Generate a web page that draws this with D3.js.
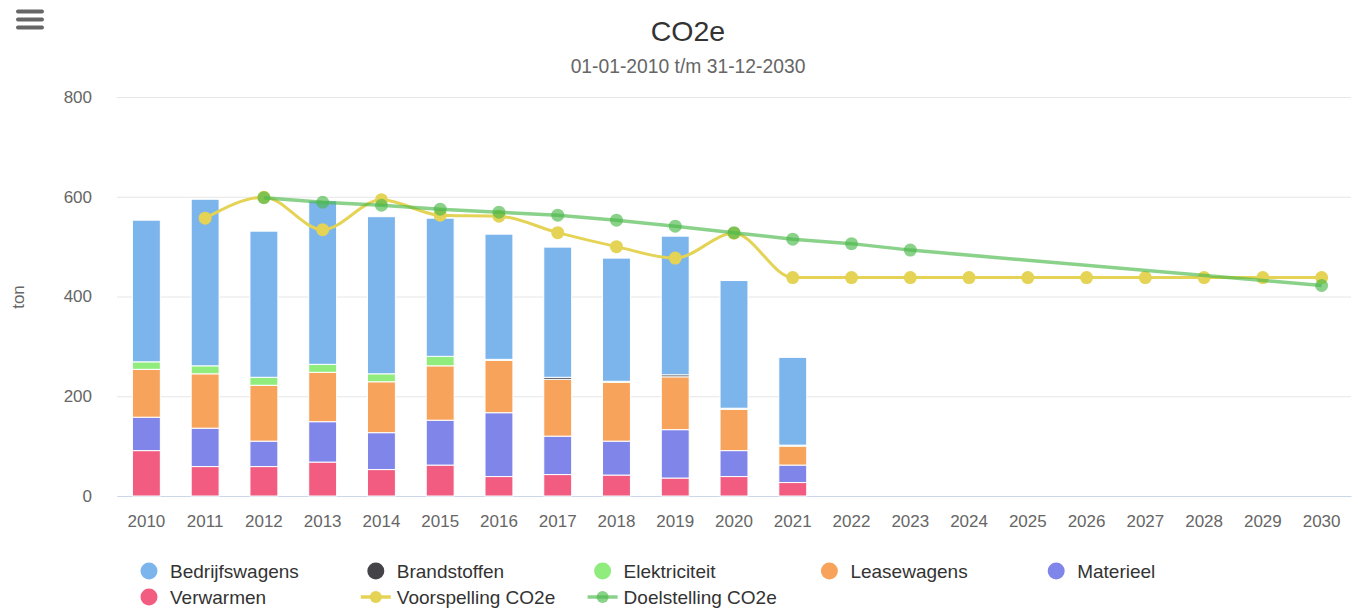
<!DOCTYPE html>
<html>
<head>
<meta charset="utf-8">
<script src="https://cdn.jsdelivr.net/npm/d3@7"></script>
<style>
  body { margin: 0; background: #fff; }
  svg { font-family: "Liberation Sans", Arial, Helvetica, sans-serif; }
  .tick text { fill: #666; font-size: 17px; }
  .grid line { stroke: #e6e6e6; }
  .title { fill: #333; font-size: 28.5px; }
  .subtitle { fill: #666; font-size: 19.3px; }
  .axis-label { fill: #666; font-size: 17px; }
  .legend text { fill: #333; font-size: 19px; }
</style>
</head>
<body>
<svg width="1358" height="612"></svg>
<script>
const width = 1358;
const height = 612;

const margin = { top: 97, right: 7, bottom: 116, left: 117 };

// data
const years = ["2010", "2011", "2012", "2013", "2014", "2015", "2016", "2017", "2018", "2019", "2020",
    "2021", "2022", "2023", "2024", "2025", "2026", "2027", "2028", "2029", "2030"];

const bedrijfswagens = [284, 334, 293, 328, 315, 277, 251, 261, 247, 278, 256, 176];
const brandstoffen   = [0, 0, 0, 0, 0, 0, 0, 4, 0, 4, 0, 0];
const elektriciteit  = [15, 16, 16, 16, 16, 19, 2, 0, 2, 0, 2, 2];
const leasewagens    = [96, 109, 112, 99, 102, 109, 105, 114, 118, 106, 83, 38];
const materieel      = [67, 77, 51, 81, 74, 90, 128, 77, 68, 97, 52, 35];
const verwarmen      = [91, 59, 59, 68, 53, 62, 39, 43, 42, 36, 39, 27];

const voorspelling = [null, 557, 599, 534, 594, 563, 561, 528, 500, 477, 527, 438,
    438, 438, 438, 438, 438, 438, 438, 438, 438];
const doelstelling = [null, null, 598, 589, 583, 575, 569, 563, 553, 541, 528, 515,
    506, 493, null, null, null, null, null, null, 422];

const yTicks = [0, 200, 400, 600, 800];

// stack order: first listed is on top
const barSeries = [
    { name: "Bedrijfswagens", values: bedrijfswagens, color: "#7cb5ec" },
    { name: "Brandstoffen", values: brandstoffen, color: "#434348" },
    { name: "Elektriciteit", values: elektriciteit, color: "#90ed7d" },
    { name: "Leasewagens", values: leasewagens, color: "#f7a35c" },
    { name: "Materieel", values: materieel, color: "#8085e9" },
    { name: "Verwarmen", values: verwarmen, color: "#f15c80" }
];

const svg = d3.select("svg");

// x scale
const xScale = d3.scaleBand()
    .domain(years)
    .range([margin.left, width - margin.right])
    .padding(0);

// y scale
const yScale = d3.scaleLinear()
    .domain([0, 800])
    .range([height - margin.bottom, margin.top]);

// grid lines
svg.append("g")
    .attr("class", "grid")
    .attr("transform", `translate(${margin.left},0)`)
    .call(d3.axisLeft(yScale).tickValues(yTicks).tickSize(-(width - margin.left - margin.right)).tickFormat(""))
    .call(g => g.select(".domain").remove());

// y axis
svg.append("g")
    .attr("transform", `translate(${margin.left - 25},0)`)
    .call(d3.axisLeft(yScale).tickValues(yTicks).tickSize(0).tickPadding(0))
    .call(g => g.select(".domain").remove());

// x axis
svg.append("g")
    .attr("transform", `translate(0, ${height - margin.bottom})`)
    .call(d3.axisBottom(xScale).tickSize(0).tickPadding(19))
    .call(g => g.select(".domain").attr("stroke", "#ccd6eb"));

// stacked bars
const rows = years.slice(0, bedrijfswagens.length).map((yr, i) => {
    const row = { year: yr };
    barSeries.forEach(s => { row[s.name] = s.values[i]; });
    return row;
});

const stack = d3.stack()
    .keys(barSeries.map(s => s.name).reverse());

const layers = stack(rows);
const barWidth = xScale.bandwidth() * 0.475;

layers.forEach(layer => {
    const s = barSeries.find(b => b.name === layer.key);
    svg.append("g")
        .selectAll("rect")
        .data(layer.filter(d => d[1] - d[0] > 0))
        .join("rect")
        .attr("x", d => xScale(d.data.year) + (xScale.bandwidth() - barWidth) / 2)
        .attr("y", d => yScale(d[1]))
        .attr("width", barWidth)
        .attr("height", d => yScale(d[0]) - yScale(d[1]))
        .attr("fill", s.color)
        .attr("stroke", "#fff")
        .attr("stroke-width", 1);
});

// voorspelling line
const xc = d => xScale(d.year) + xScale.bandwidth() / 2;

const vData = years.map((yr, i) => ({ year: yr, value: voorspelling[i] })).filter(d => d.value !== null);
const dData = years.map((yr, i) => ({ year: yr, value: doelstelling[i] })).filter(d => d.value !== null);

const vLine = d3.line()
    .x(xc)
    .y(d => yScale(d.value))
    .curve(d3.curveMonotoneX);

svg.append("path")
    .datum(vData)
    .attr("d", vLine)
    .attr("fill", "none")
    .attr("stroke", "#e4d354")
    .attr("stroke-width", 3);

svg.append("g")
    .selectAll("circle")
    .data(vData)
    .join("circle")
    .attr("cx", xc)
    .attr("cy", d => yScale(d.value))
    .attr("r", 6.5)
    .attr("fill", "#e4d354");

// doelstelling line
const dLine = d3.line()
    .x(xc)
    .y(d => yScale(d.value));

svg.append("path")
    .datum(dData)
    .attr("d", dLine)
    .attr("fill", "none")
    .attr("stroke", "#4cb84c")
    .attr("stroke-opacity", 0.65)
    .attr("stroke-width", 3.5);

svg.append("g")
    .selectAll("circle")
    .data(dData)
    .join("circle")
    .attr("cx", xc)
    .attr("cy", d => yScale(d.value))
    .attr("r", 6.5)
    .attr("fill", "#4cb84c")
    .attr("fill-opacity", 0.65);

// title
svg.append("text")
    .attr("x", 688)
    .attr("y", 41)
    .attr("text-anchor", "middle")
    .attr("class", "title")
    .text("CO2e");

svg.append("text")
    .attr("x", 688)
    .attr("y", 73)
    .attr("text-anchor", "middle")
    .attr("class", "subtitle")
    .text("01-01-2010 t/m 31-12-2030");

// y axis label
svg.append("text")
    .attr("transform", "rotate(-90)")
    .attr("x", -297)
    .attr("y", 24)
    .attr("text-anchor", "middle")
    .attr("class", "axis-label")
    .text("ton");

// menu icon
[9.5, 17.5, 25.5].forEach(y => {
    svg.append("rect")
        .attr("x", 16)
        .attr("y", y)
        .attr("width", 28)
        .attr("height", 4)
        .attr("rx", 2)
        .attr("fill", "#666");
});

// legend
const legendItems = [
    { name: "Bedrijfswagens", color: "#7cb5ec", type: "dot" },
    { name: "Brandstoffen", color: "#434348", type: "dot" },
    { name: "Elektriciteit", color: "#90ed7d", type: "dot" },
    { name: "Leasewagens", color: "#f7a35c", type: "dot" },
    { name: "Materieel", color: "#8085e9", type: "dot" },
    { name: "Verwarmen", color: "#f15c80", type: "dot" },
    { name: "Voorspelling CO2e", color: "#e4d354", type: "line" },
    { name: "Doelstelling CO2e", color: "#4cb84c", type: "line", opacity: 0.65 }
];

const legend = svg.append("g").attr("class", "legend");

legendItems.forEach((item, i) => {
    const cx = 149 + (i % 5) * 226.8;
    const cy = 571 + Math.floor(i / 5) * 26;
    const g = legend.append("g");
    if (item.type === "line") {
        g.append("line")
            .attr("x1", cx - 15)
            .attr("x2", cx + 15)
            .attr("y1", cy)
            .attr("y2", cy)
            .attr("stroke", item.color)
            .attr("stroke-opacity", item.opacity || 1)
            .attr("stroke-width", 3.5);
        g.append("circle")
            .attr("cx", cx)
            .attr("cy", cy)
            .attr("r", 6)
            .attr("fill", item.color)
            .attr("fill-opacity", item.opacity || 1);
    } else {
        g.append("circle")
            .attr("cx", cx)
            .attr("cy", cy)
            .attr("r", 8.5)
            .attr("fill", item.color);
    }
    g.append("text")
        .attr("x", cx + 21)
        .attr("y", cy + 6.5)
        .text(item.name);
});
</script>
</body>
</html>
